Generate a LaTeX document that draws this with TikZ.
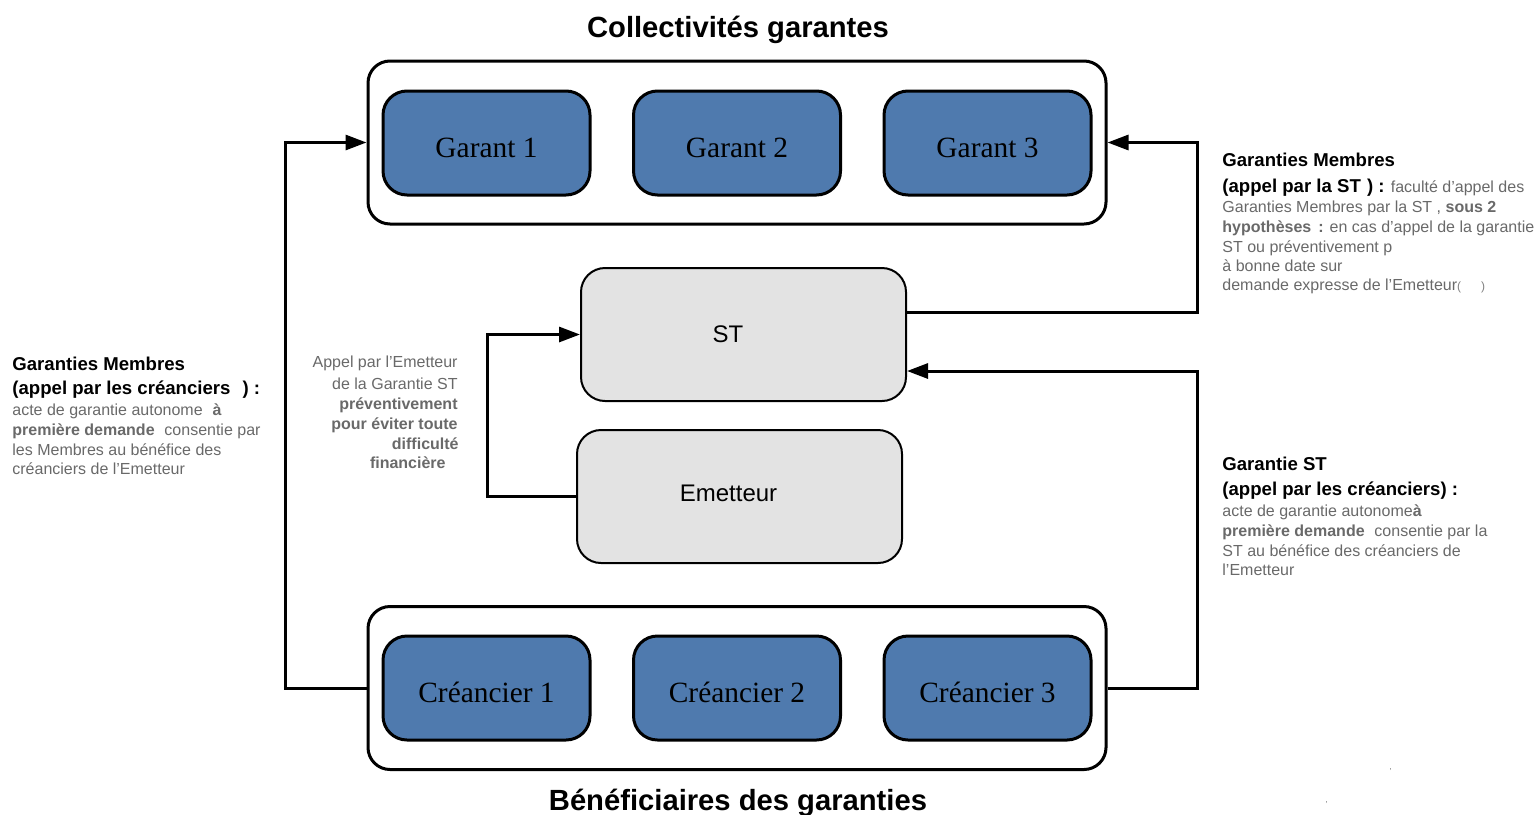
\documentclass[tikz,border=0pt]{standalone}
\usepackage{fontspec}
\setmainfont{Liberation Sans}
\newfontfamily\garserif{Liberation Serif}
\usetikzlibrary{arrows.meta,calc}
\definecolor{garblue}{RGB}{79,122,174}
\definecolor{stgray}{RGB}{227,227,227}
\definecolor{txtgray}{RGB}{105,105,105}
\tikzset{
  outerbox/.style={draw=black,line width=1.5pt,rounded corners=11pt,fill=white,minimum width=369pt,minimum height=81.5pt,inner sep=0pt},
  bluebox/.style={draw=black,line width=1.5pt,rounded corners=12pt,fill=garblue,minimum width=103.5pt,minimum height=52pt,inner sep=0pt,text height=14.7pt,text depth=0pt,font=\garserif\fontsize{14.7}{17}\selectfont},
  graybox/.style={draw=black,line width=1pt,rounded corners=12pt,fill=stgray,minimum width=162.5pt,minimum height=66.5pt,inner sep=0pt,text depth=0pt,font=\fontsize{12}{14}\selectfont},
  conn/.style={line width=1.5pt,-{Triangle[length=10.5pt,width=7.5pt]}},
  title/.style={font=\bfseries\fontsize{14.6}{17}\selectfont,inner sep=0pt},
  head/.style={anchor=base west,inner sep=0pt,font=\bfseries\fontsize{9.3}{11}\selectfont},
  gtxt/.style={anchor=base west,inner sep=0pt,text=txtgray,font=\fontsize{8}{10}\selectfont},
  gtxtr/.style={anchor=base east,inner sep=0pt,text=txtgray,font=\fontsize{8}{10}\selectfont},
}
\begin{document}
\begin{tikzpicture}[x=0.5pt,y=-0.5pt]
\useasboundingbox (0,0) rectangle (1534,814);
% titles
\node[title] (ttop) at (738,30) {Collectivités garantes};
\node[title,anchor=base] (tbot) at (738,810) {Bénéficiaires des garanties};
% top group
\node[outerbox] (topouter) at (737,142.5) {};
\node[bluebox] (g1) at (486.5,143) {Garant 1};
\node[bluebox] (g2) at (737,143) {Garant 2};
\node[bluebox] (g3) at (987.5,143) {Garant 3};
% bottom group
\node[outerbox] (botouter) at (737,688) {};
\node[bluebox] (c1) at (486.5,688) {Créancier 1};
\node[bluebox] (c2) at (737,688) {Créancier 2};
\node[bluebox] (c3) at (987.5,688) {Créancier 3};
% middle
\node[graybox,text height=8.1pt] (st) at (743.5,334.5) {\kern-15.5pt ST};
\node[graybox,text height=5.1pt] (em) at (739.5,496.5) {\kern-11pt Emetteur};
% connectors
\draw[conn] (botouter.west) -- ++(-81,0) |- (topouter.west);
\draw[conn] ($(st.east)+(0,-22.5)$) -- ++(290,0) |- (topouter.east);
\draw[conn] (botouter.east) -- ++(90,0) |- ($(st.east)+(0,36.5)$);
\draw[conn] (em.west) -- ++(-89,0) |- (st.west);
% right top text
\node[head] (rt1) at (1222,166) {Garanties Membres};
\node[head] (rt2) at (1222,192) {(appel par la ST\,\,) :\,\,\textcolor{txtgray}{\mdseries\fontsize{8}{10}\selectfont faculté d’appel des}};
\node[gtxt] (rt3) at (1222,212) {Garanties Membres par la ST , \textbf{sous 2}};
\node[gtxt] (rt4) at (1222,232) {\textbf{hypothèses\, :} en cas d’appel de la garantie};
\node[gtxt] (rt5) at (1222,252) {ST ou préventivement p};
\node[gtxt] (rt6) at (1222,271) {à bonne date sur};
\node[gtxt] (rt7) at (1222,290) {demande expresse de l’Emetteur{\fontsize{6}{7}\selectfont\color{gray}(\hspace{10pt})}};
% left text
\node[head] (l1) at (12,370) {Garanties Membres};
\node[head] (l2) at (12,394) {(appel par les créanciers\hspace{6pt}) :};
\node[gtxt] (l3) at (12,415) {acte de garantie autonome\,\, \textbf{à}};
\node[gtxt] (l4) at (12,435) {\textbf{première demande}\,\, consentie par};
\node[gtxt] (l5) at (12,455) {les Membres au bénéfice des};
\node[gtxt] (l6) at (12,474) {créanciers de l’Emetteur};
% middle text
\node[gtxtr] (m1) at (458,367) {Appel par l’Emetteur};
\node[gtxtr] (m2) at (458,389) {de la Garantie ST};
\node[gtxtr] (m3) at (458,409) {\textbf{préventivement}};
\node[gtxtr] (m4) at (458,429) {\textbf{pour éviter toute}};
\node[gtxtr] (m5) at (459,449) {\textbf{difficulté}};
\node[gtxtr] (m6) at (446,468) {\textbf{financière}};
% right bottom text
\node[head] (rb1) at (1222,470) {Garantie ST};
\node[head] (rb2) at (1222,495) {(appel par les créanciers) :};
\node[gtxt] (rb3) at (1222,516) {acte de garantie autonome\textbf{à}};
\node[gtxt] (rb4) at (1222,536) {\textbf{première demande}\,\, consentie par la};
\node[gtxt] (rb5) at (1222,556) {ST au bénéfice des créanciers de};
\node[gtxt] (rb6) at (1222,575) {l’Emetteur};
% stray marks
\node[gtxt,font=\fontsize{4}{5}\selectfont] (s1) at (1389,769) {,};
\node[gtxt,font=\fontsize{4}{5}\selectfont] (s2) at (1325,802) {,};
\end{tikzpicture}
\end{document}
